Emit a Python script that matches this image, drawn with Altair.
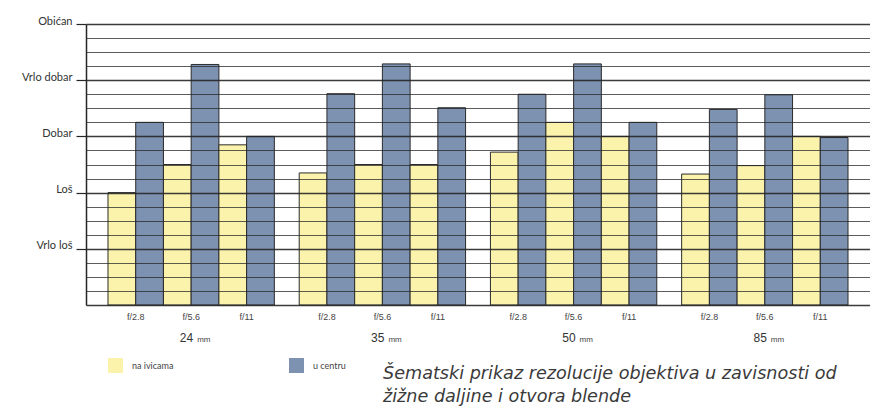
import altair as alt
import pandas as pd

# ---- data ----
focal = ["24", "35", "50", "85"]
apertures = ["f/2.8", "f/5.6", "f/11"]
series = ["na ivicama", "u centru"]
# values per (focal, aperture), in order 24 f/2.8, 24 f/5.6, 24 f/11, 35 f/2.8, ...
edge_vals = [2.0, 2.5, 2.85, 2.35, 2.5, 2.5, 2.72, 3.25, 3.0, 2.33, 2.48, 3.0]
center_vals = [3.25, 4.28, 3.0, 3.76, 4.29, 3.51, 3.75, 4.29, 3.25, 3.48, 3.74, 2.98]
level_names = ["Vrlo loš", "Loš", "Dobar", "Vrlo dobar", "Obićan"]  # levels 1..5
grid_levels = [i / 4 for i in range(21)]
unit = "mm"
caption_line1 = "Šematski prikaz rezolucije objektiva u zavisnosti od"
caption_line2 = "žižne daljine i otvora blende"
colors = ["#fbf3ac", "#7d91b1"]

# ---- tables ----
rows = []
i = 0
for f in focal:
    for a in apertures:
        rows.append({"focal": f, "aperture": a, "series": series[0],
                     "slot": f"{a} {series[0]}", "value": edge_vals[i]})
        rows.append({"focal": f, "aperture": a, "series": series[1],
                     "slot": f"{a} {series[1]}", "value": center_vals[i]})
        i += 1
df = pd.DataFrame(rows)
slot_order = [f"{a} {s}" for a in apertures for s in series]
df_ap = pd.DataFrame([{"focal": f, "aperture": a} for f in focal for a in apertures])
df_focal = pd.DataFrame({"focal": focal, "unit": [unit] * len(focal)})
df_cap = pd.DataFrame({"k": [0]})

label_expr = " : ".join(
    f"datum.value == {n + 1} ? '{name}'" for n, name in enumerate(level_names)
) + " : ''"

x_enc = alt.X("focal:N", sort=focal, axis=None,
              scale=alt.Scale(paddingInner=0.13, paddingOuter=0.115))

major = "datum.value % 1 === 0"

bars = alt.Chart(df).mark_bar(stroke="#2b2b2b", strokeWidth=1).encode(
    x=x_enc,
    xOffset=alt.XOffset("slot:N", sort=slot_order,
                        scale=alt.Scale(paddingInner=0, paddingOuter=0)),
    y=alt.Y("value:Q", scale=alt.Scale(domain=[0, 5], nice=False, zero=True),
            axis=alt.Axis(
                values=grid_levels, grid=True, title=None,
                gridColor="#262626",
                gridWidth={"condition": {"test": major, "value": 1.4}, "value": 1},
                gridOpacity={"condition": {"test": major, "value": 0.9}, "value": 0.75},
                tickSize=10, tickColor="#262626", tickWidth=1.2,
                tickOpacity={"condition": {"test": major + " && datum.value > 0", "value": 1}, "value": 0},
                domainColor="#262626", domainWidth=1.5,
                labelExpr=label_expr, labelOverlap=False,
                labelBaseline="alphabetic", labelPadding=4,
                labelFont="Lato", labelFontSize=11, labelColor="#333",
                zindex=1)),
    color=alt.Color("series:N", scale=alt.Scale(domain=series, range=colors),
                    legend=alt.Legend(
                        orient="none", legendX=22, legendY=334,
                        direction="horizontal", title=None,
                        symbolType="square", symbolSize=225,
                        symbolStrokeWidth=0, symbolOpacity=1,
                        labelFont="Lato", labelFontSize=9, labelColor="#444",
                        labelOffset=9, columnPadding=115, padding=0)),
)

ap_text = alt.Chart(df_ap).mark_text(
    font="Liberation Sans", fontSize=9, color="#444", baseline="middle"
).encode(
    x=x_enc,
    xOffset=alt.XOffset("aperture:N", sort=apertures,
                        scale=alt.Scale(type="band", paddingInner=0, paddingOuter=0)),
    y=alt.value(293),
    text="aperture:N",
)

num_text = alt.Chart(df_focal).mark_text(
    font="Liberation Sans", fontSize=12, color="#333", align="right",
    baseline="alphabetic", dx=2
).encode(x=x_enc, y=alt.value(318), text="focal:N")

mm_text = alt.Chart(df_focal).mark_text(
    font="Liberation Sans", fontSize=8, color="#444", align="left",
    baseline="alphabetic", dx=6
).encode(x=x_enc, y=alt.value(318), text="unit:N")

cap1 = alt.Chart(df_cap).mark_text(
    font="DejaVu Sans", fontStyle="italic", fontSize=17.6, color="#3a3a3a",
    align="left", baseline="alphabetic", text=caption_line1
).encode(x=alt.value(297), y=alt.value(355))

cap2 = alt.Chart(df_cap).mark_text(
    font="DejaVu Sans", fontStyle="italic", fontSize=17.6, color="#3a3a3a",
    align="left", baseline="alphabetic", text=caption_line2
).encode(x=alt.value(297), y=alt.value(378))

chart = alt.layer(bars, ap_text, num_text, mm_text, cap1, cap2).resolve_scale(
    xOffset="independent"
).properties(
    width=784, height=281,
    autosize=alt.AutoSizeParams(type="none"),
    padding={"left": 78, "top": 16, "right": 0, "bottom": 103},
    background="white",
).configure_view(strokeWidth=0)

chart.save("out.html", embed_options={"renderer": "svg", "actions": False})
